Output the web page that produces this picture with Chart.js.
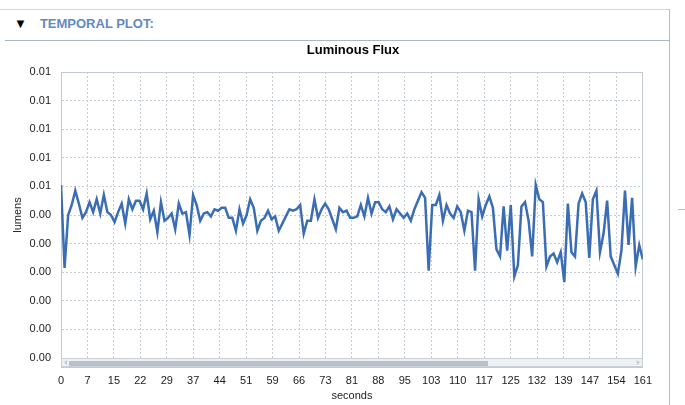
<!DOCTYPE html>
<html>
<head>
<meta charset="utf-8">
<script src="https://cdn.jsdelivr.net/npm/chart.js@4"></script>
<style>
  body { margin: 0; width: 685px; height: 405px; background: #fff; overflow: hidden; position: relative; font-family: "Liberation Sans", Arial, sans-serif; }
  .line { position: absolute; background: #d4d4d4; }
  #header { position: absolute; left: 14px; top: 16px; font-size: 13px; font-weight: bold; color: #6389c4; }
  #header span { color: #000; font-size: 13px; margin-right: 13px; }
  #title { position: absolute; left: 253px; width: 200px; top: 42px; text-align: center; font-size: 13px; font-weight: bold; color: #000; }
  #box { position: absolute; left: 0; top: 41px; width: 668px; height: 364px; }
</style>
</head>
<body>
<div class="line" style="left:0;top:9px;width:670px;height:1px"></div>
<div class="line" style="left:669px;top:9px;width:1px;height:396px;background:#bcbcbc"></div>
<div class="line" style="left:678px;top:209px;width:7px;height:1px;background:#c0c0c0"></div>
<div id="header"><span>&#9660;</span>TEMPORAL PLOT:</div>
<div class="line" style="left:5px;top:40px;width:665px;height:1px;background:#a9b6c4"></div>
<div id="box"><canvas id="grafico"></canvas></div>
<div id="title">Luminous Flux</div>

<script>
/* data */
var xTickLabels = ['0','7','15','22','29','37','44','51','59','66','73','81','88','95','103','110','117','125','132','139','147','154','161'];
var yTickLabels = ['0.00','0.00','0.00','0.00','0.00','0.00','0.01','0.01','0.01','0.01','0.01'];
var luminousFlux = [
  0.00521, 0.00463, 0.00500, 0.00507, 0.00517, 0.00508, 0.00498, 0.00502, 0.00509, 0.00502,
  0.00511, 0.00501, 0.00514, 0.00502, 0.00500, 0.00495, 0.00502, 0.00508, 0.00494, 0.00511,
  0.00504, 0.00510, 0.00510, 0.00504, 0.00515, 0.00497, 0.00503, 0.00488, 0.00509, 0.00496,
  0.00498, 0.00501, 0.00490, 0.00508, 0.00501, 0.00502, 0.00486, 0.00514, 0.00507, 0.00496,
  0.00501, 0.00502, 0.00499, 0.00504, 0.00503, 0.00505, 0.00505, 0.00498, 0.00498, 0.00489,
  0.00504, 0.00494, 0.00500, 0.00511, 0.00505, 0.00489, 0.00496, 0.00498, 0.00503, 0.00497,
  0.00499, 0.00489, 0.00494, 0.00499, 0.00504, 0.00503, 0.00504, 0.00507, 0.00487, 0.00496,
  0.00496, 0.00511, 0.00498, 0.00504, 0.00508, 0.00504, 0.00497, 0.00490, 0.00505, 0.00502,
  0.00503, 0.00498, 0.00498, 0.00499, 0.00507, 0.00499, 0.00512, 0.00501, 0.00509, 0.00509,
  0.00504, 0.00502, 0.00506, 0.00497, 0.00504, 0.00501, 0.00498, 0.00501, 0.00496, 0.00504,
  0.00510, 0.00516, 0.00512, 0.00461, 0.00507, 0.00507, 0.00514, 0.00496, 0.00507, 0.00501,
  0.00498, 0.00506, 0.00502, 0.00489, 0.00503, 0.00502, 0.00461, 0.00511, 0.00499, 0.00507,
  0.00513, 0.00505, 0.00476, 0.00471, 0.00506, 0.00475, 0.00507, 0.00457, 0.00465, 0.00506,
  0.00509, 0.00496, 0.00471, 0.00521, 0.00511, 0.00509, 0.00464, 0.00471, 0.00473, 0.00467,
  0.00474, 0.00453, 0.00508, 0.00474, 0.00471, 0.00508, 0.00515, 0.00509, 0.00470, 0.00511,
  0.00517, 0.00474, 0.00487, 0.00510, 0.00471, 0.00465, 0.00459, 0.00475, 0.00517, 0.00479,
  0.00512, 0.00464, 0.00479, 0.00469
];

var yMin = 0.0040, yMax = 0.0060, yStep = 0.0002;
var last = luminousFlux.length - 1;

/* plot frame + scrollbar under the plot */
var frame = {
  id: 'frame',
  beforeDatasetsDraw: function(chart) {
    var c = chart.ctx, a = chart.chartArea;
    c.save();
    c.strokeStyle = '#c3cad1';
    c.lineWidth = 1;
    c.strokeRect(Math.round(a.left) + 0.5, Math.round(a.top) + 0.5, Math.round(a.right - a.left) - 1, Math.round(a.bottom - a.top) + 9);
    c.restore();
  },
  afterDraw: function(chart) {
    var c = chart.ctx, a = chart.chartArea;
    c.save();
    c.fillStyle = '#eef0f3';
    c.fillRect(a.left, a.bottom, a.right - a.left, 9);
    c.strokeStyle = '#c9d0d7';
    c.lineWidth = 1;
    c.strokeRect(a.left + 0.5, a.bottom + 0.5, a.right - a.left - 1, 8);
    c.fillStyle = '#b9c0c7';
    c.fillRect(a.left + 8, a.bottom + 3, 419, 5);
    c.fillStyle = '#c2c8ce';
    c.beginPath();
    c.moveTo(a.left + 3, a.bottom + 4.5); c.lineTo(a.left + 6, a.bottom + 2); c.lineTo(a.left + 6, a.bottom + 7);
    c.fill();
    c.beginPath();
    c.moveTo(a.right - 3, a.bottom + 4.5); c.lineTo(a.right - 6, a.bottom + 2); c.lineTo(a.right - 6, a.bottom + 7);
    c.fill();
    c.restore();
  }
};

var ctx = document.getElementById('grafico');
var lineGraph = new Chart(ctx, {
  type: 'line',
  data: {
    datasets: [{
      label: 'Luminous Flux',
      data: luminousFlux.map(function(v, i) { return { x: i, y: v }; }),
      borderColor: '#3b6db5',
      borderWidth: 2.5,
      pointRadius: 0,
      tension: 0,
      fill: false
    }]
  },
  options: {
    responsive: true,
    maintainAspectRatio: false,
    animation: false,
    layout: { padding: { left: 0, right: 19, top: 31, bottom: 0 } },
    plugins: {
      legend: { display: false },
      tooltip: { enabled: false },
      title: { display: false }
    },
    scales: {
      x: {
        type: 'linear',
        min: 0,
        max: last,
        afterBuildTicks: function(scale) {
          scale.ticks = xTickLabels.map(function(l, k) { return { value: k * last / (xTickLabels.length - 1) }; });
        },
        afterFit: function(scale) { scale.height = 47; },
        ticks: {
          autoSkip: false,
          maxRotation: 0,
          padding: 16,
          color: '#222',
          font: { family: 'Liberation Sans', size: 11 },
          callback: function(v, i) { return xTickLabels[i]; }
        },
        grid: { color: '#c6cdd5', drawTicks: false },
        border: { color: '#c3cad1', dash: [2, 2] },
        title: {
          display: true,
          text: 'seconds',
          color: '#222',
          font: { family: 'Liberation Sans', size: 11 },
          padding: { top: 0, bottom: 2 }
        }
      },
      y: {
        min: yMin,
        max: yMax,
        afterBuildTicks: function(scale) {
          scale.ticks = yTickLabels.map(function(l, i) { return { value: yMin + i * yStep }; });
        },
        afterFit: function(scale) { scale.width = 61; },
        ticks: {
          padding: 10,
          color: '#222',
          font: { family: 'Liberation Sans', size: 11 },
          callback: function(v, i) { return yTickLabels[i]; }
        },
        grid: { color: '#c6cdd5', drawTicks: false },
        border: { color: '#c3cad1', dash: [2, 2] },
        title: {
          display: true,
          text: 'lumens',
          color: '#222',
          font: { family: 'Liberation Sans', size: 11 },
          padding: { top: 11, bottom: 0 }
        }
      }
    }
  },
  plugins: [frame]
});
</script>
</body>
</html>
